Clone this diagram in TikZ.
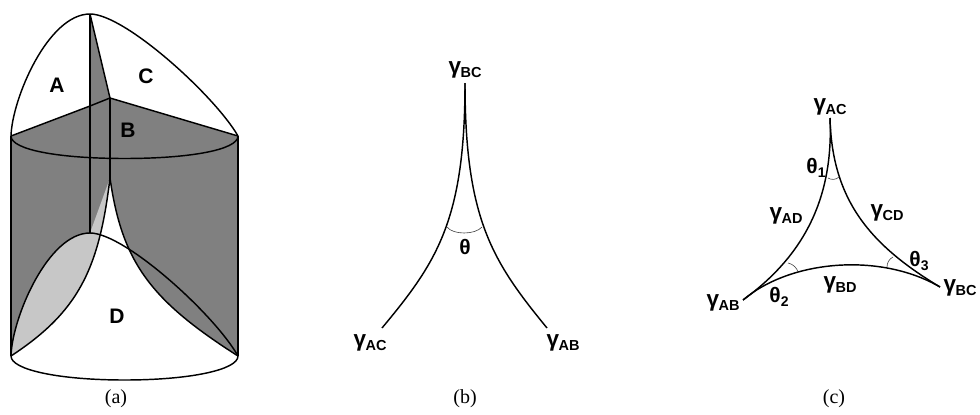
\documentclass[tikz,border=0pt]{standalone}
\usepackage{fontspec}
\setmainfont{Liberation Sans}
\newfontfamily\capfont{Liberation Serif}
\definecolor{darkgr}{gray}{0.5}
\definecolor{lightgr}{gray}{0.78}
\newcommand{\gam}[1]{{\bfseries\raisebox{4pt}{\fontsize{22.5}{23}\selectfont γ}\kern-0.5pt{\fontsize{14.5}{14.5}\selectfont #1}}}
\newcommand{\thet}[1]{{\bfseries{\fontsize{21}{21}\selectfont θ}\raisebox{-3.5pt}{\fontsize{14}{14}\selectfont #1}}}
\tikzset{
  edge/.style={draw=black,line width=1.45pt},
  thin arc/.style={draw=black!75,line width=0.6pt},
  lab/.style={inner sep=0pt,font=\fontsize{21}{21}\selectfont\bfseries},
  gl/.style={inner sep=0pt},
  captext/.style={inner sep=0pt,font=\capfont\fontsize{20}{20}\selectfont}
}
\begin{document}
\begin{tikzpicture}[x=1pt,y=-1pt]
\useasboundingbox (0,0) rectangle (980,415);
% panel a
\coordinate (apex) at (90,14);
\coordinate (tl) at (11,136);
\coordinate (tr) at (238,136);
\coordinate (ctr) at (110,98);
\coordinate (mid) at (90,106);
\coordinate (bl) at (11,356);
\coordinate (br) at (238,356);
\coordinate (cusp) at (110,178);
\coordinate (dome) at (90,233);
\fill[darkgr] (tl) -- (mid) -- (ctr) -- (tr) -- (br) -- (bl) -- cycle;
\fill[darkgr] (apex) -- (ctr) -- (mid) -- cycle;
\fill[white] (cusp) .. controls (122,262) and (150,300) .. (br)
  .. controls (238,370) and (189,380) .. (124.5,380)
  .. controls (60,380) and (11,370) .. (bl)
  .. controls (78,312) and (99,270) .. (cusp) -- cycle;
\fill[lightgr] (bl) .. controls (12,318) and (48,233) .. (dome)
  -- (cusp) .. controls (99,270) and (78,312) .. (bl) -- cycle;
\draw[edge] (tl) .. controls (12,99) and (48,14) .. (apex) .. controls (125,14) and (215,96) .. (tr);
\draw[edge] (apex) -- (ctr);
\draw[edge] (tl) -- (mid) -- (ctr) -- (tr);
\draw[edge] (apex) -- (dome);
\draw[edge] (ctr) -- (cusp);
\draw[edge] (tl) -- (bl);
\draw[edge] (tr) -- (br);
\draw[edge] (tl) .. controls (11,150) and (60,158.5) .. (124.5,158.5) .. controls (189,158.5) and (238,150) .. (tr);
\draw[edge] (bl) .. controls (11,370) and (60,380) .. (124.5,380) .. controls (189,380) and (238,370) .. (br);
\draw[edge] (bl) .. controls (12,318) and (48,233) .. (dome) .. controls (125,233) and (215,315) .. (br);
\draw[edge] (cusp) .. controls (99,270) and (78,312) .. (bl);
\draw[edge] (cusp) .. controls (122,262) and (150,300) .. (br);
\node[lab] (la) at (57,85) {A};
\node[lab] (lc) at (146,76) {C};
\node[lab] (lb) at (128,130) {B};
\node[lab] (ld) at (117,316) {D};
\node[captext] (capa) at (116,399) {(a)};
% panel b
\coordinate (bt) at (465,83);
\coordinate (bL) at (382,328);
\coordinate (bR) at (547,328);
\coordinate (bal) at (447,227);
\coordinate (bar) at (482,227);
\draw[edge] (bt) .. controls (465,220) and (437,262) .. (bL);
\draw[edge] (bt) .. controls (465,220) and (493,262) .. (bR);
\draw[thin arc] (bal) .. controls (453,235) and (475,235) .. (bar);
\node[gl] (gbc) at (465,70) {\gam{BC}};
\node[gl] (gac) at (370,343) {\gam{AC}};
\node[gl] (gab) at (563,343) {\gam{AB}};
\node[lab,font=\fontsize{21}{21}\selectfont\bfseries] (th) at (465,247) {θ};
\node[captext] (capb) at (465,399) {(b)};
% panel c
\coordinate (ct) at (830,118);
\coordinate (cl) at (743,300);
\coordinate (cr) at (940,287);
\draw[edge] (ct) .. controls (834,205) and (798,260) .. (cl);
\draw[edge] (ct) .. controls (832,200) and (870,245) .. (cr);
\draw[edge] (cl) .. controls (790,260) and (880,252) .. (cr);
\coordinate (a1) at (828,178);
\coordinate (a2) at (839,177);
\coordinate (b1) at (788,263);
\coordinate (b2) at (798,272);
\coordinate (d1) at (893,257);
\coordinate (d2) at (887,267);
\draw[thin arc] (a1) .. controls (831,180) and (836,180) .. (a2);
\draw[thin arc] (b1) .. controls (793,264) and (797,268) .. (b2);
\draw[thin arc] (d1) .. controls (889,259) and (887,263) .. (d2);
\node[gl] (cac) at (830,107) {\gam{AC}};
\node[gl] (cad) at (786,216) {\gam{AD}};
\node[gl] (ccd) at (887,213) {\gam{CD}};
\node[gl] (cbd) at (840,285) {\gam{BD}};
\node[gl] (cab) at (723,303) {\gam{AB}};
\node[gl] (cbc) at (960,288) {\gam{BC}};
\node[gl] (t1) at (816,168) {\thet{1}};
\node[gl] (t2) at (779,297) {\thet{2}};
\node[gl] (t3) at (919,261) {\thet{3}};
\node[captext] (capc) at (834,399) {(c)};
\end{tikzpicture}
\end{document}
